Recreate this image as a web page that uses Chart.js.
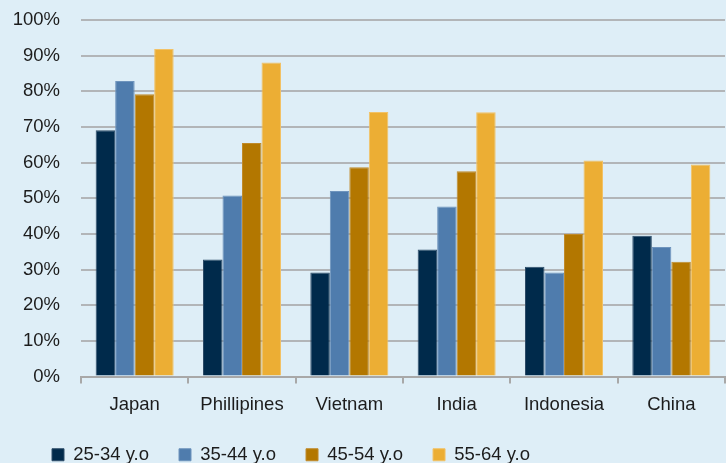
<!DOCTYPE html>
<html>
<head>
<meta charset="utf-8">
<script src="https://cdn.jsdelivr.net/npm/chart.js@4"></script>
<style>
  html, body { margin: 0; padding: 0; background: #deeef7; }
  #wrap { width: 726px; height: 463px; position: relative; }
</style>
</head>
<body>
<div id="wrap"><canvas id="c" width="726" height="463"></canvas></div>
<script>
const categories = ["Japan", "Phillipines", "Vietnam", "India", "Indonesia", "China"];
const seriesNames = ["25-34 y.o", "35-44 y.o", "45-54 y.o", "55-64 y.o"];
const age25to34 = [69.1, 32.8, 29.2, 35.6, 30.8, 39.5];
const age35to44 = [82.9, 50.8, 52.0, 47.7, 29.2, 36.3];
const age45to54 = [79.2, 65.5, 58.7, 57.6, 40.0, 32.2];
const age55to64 = [91.9, 88.1, 74.2, 74.1, 60.6, 59.5];
const yTicks = [0, 10, 20, 30, 40, 50, 60, 70, 80, 90, 100];

const colors = ["#002a4b", "#4f7cad", "#b37700", "#ecae34"];
const borders = ["#2d4c68", "#6e94bd", "#c08a2a", "#f2c266"];
const values = [age25to34, age35to44, age45to54, age55to64];

const FONT = "'Liberation Sans', Arial, Helvetica, sans-serif";

const legendShift = {
  id: 'legendShift',
  afterLayout(chart) {
    const l = chart.legend;
    if (l) { l.left += 14; l.right += 14; }
  }
};

new Chart(document.getElementById('c'), {
  type: 'bar',
  data: {
    labels: categories,
    datasets: seriesNames.map((n, i) => ({
      label: n,
      data: values[i],
      backgroundColor: colors[i],
      borderColor: borders[i],
      borderWidth: 1,
      categoryPercentage: 0.727,
      barPercentage: 1.0
    }))
  },
  plugins: [legendShift],
  options: {
    responsive: false,
    animation: false,
    devicePixelRatio: 1,
    layout: { padding: { left: 8, right: 1, top: 20, bottom: -11 } },
    plugins: {
      tooltip: { enabled: false },
      legend: {
        position: 'bottom',
        align: 'start',
        labels: {
          boxWidth: 12,
          boxHeight: 12,
          padding: 30,
          color: '#1c1c1c',
          font: { family: FONT, size: 18.5 }
        }
      }
    },
    scales: {
      x: {
        afterFit: s => { s.height = 39; },
        grid: { display: true, drawOnChartArea: false, drawTicks: true, tickLength: 7, color: '#a8a8a8', lineWidth: 2 },
        border: { display: true, color: '#a8a8a8', width: 2 },
        ticks: { color: '#1c1c1c', font: { family: FONT, size: 18.5 }, padding: 10 }
      },
      y: {
        min: 0,
        max: 100,
        afterFit: s => { s.width = 73; s.paddingTop = 11; s.paddingBottom = 11; },
        afterBuildTicks: s => { s.ticks = yTicks.map(v => ({ value: v })); },
        grid: { color: '#b2b5b8', lineWidth: 2, drawTicks: false },
        border: { display: false },
        ticks: {
          color: '#1c1c1c',
          font: { family: FONT, size: 18.5 },
          padding: 21,
          callback: v => v + '%'
        }
      }
    }
  }
});
</script>
</body>
</html>
